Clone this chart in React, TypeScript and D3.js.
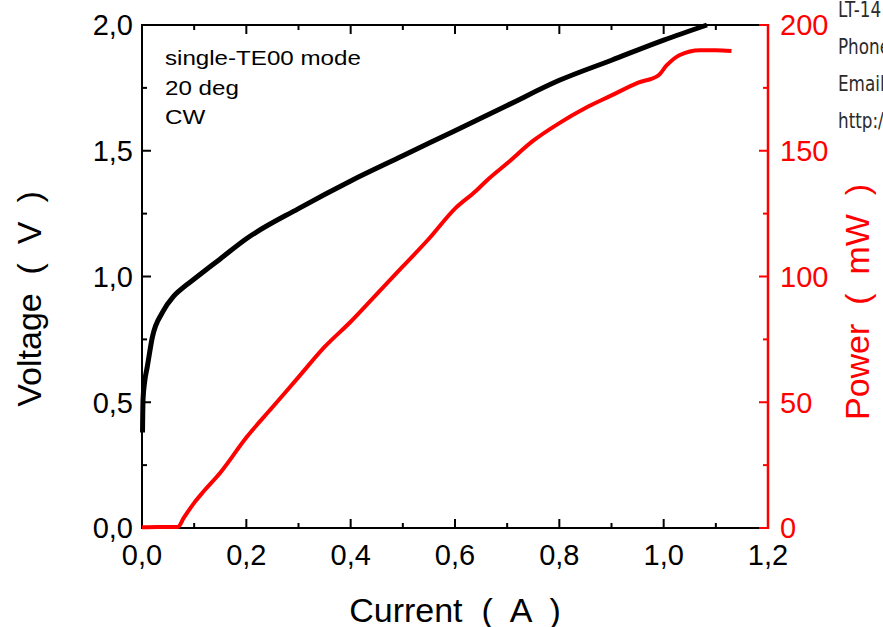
import React from "react";
import * as d3 from "d3";

const currentV = [0.001, 0.002, 0.005, 0.01, 0.02, 0.04, 0.06, 0.073, 0.1, 0.15, 0.2, 0.3, 0.4, 0.5, 0.6, 0.7, 0.8, 0.9, 1.0, 1.083];
const voltage = [0.38, 0.51, 0.58, 0.64, 0.76, 0.86, 0.92, 0.946, 0.99, 1.07, 1.15, 1.27, 1.38, 1.48, 1.58, 1.68, 1.78, 1.86, 1.94, 2.0];

const currentP = [0, 0.03, 0.069, 0.08, 0.1, 0.12, 0.15, 0.2, 0.25, 0.3, 0.35, 0.4, 0.45, 0.5, 0.55, 0.6, 0.64, 0.66, 0.7, 0.75, 0.8, 0.85, 0.9, 0.95, 0.99, 1.006, 1.03, 1.07, 1.1, 1.13];
const power = [0.3, 0.4, 0.4, 4, 10, 15, 22, 36, 48, 60, 72, 82, 93, 104, 115, 127, 134, 138, 145, 154, 161, 167, 172, 177, 180, 184, 188, 190, 190, 189.7];

const xTicks = [0, 0.2, 0.4, 0.6, 0.8, 1.0, 1.2];
const xMinor = [0.1, 0.3, 0.5, 0.7, 0.9, 1.1];
const yTicks = [0, 0.5, 1.0, 1.5, 2.0];
const yMinor = [0.25, 0.75, 1.25, 1.75];
const pTicks = [0, 50, 100, 150, 200];
const pMinor = [25, 75, 125, 175];
const notes = ["single-TE00 mode", "20 deg", "CW"];
const cornerText = ["LT-14", "Phone", "Email", "http:/"];

const W = 883, H = 627;
const L = 142, R = 768, T = 25, B = 528;
const FONT = "'Liberation Sans', Arial, sans-serif";
const RED = "#ff0000";

export default function App() {
  const x = d3.scaleLinear().domain([0, 1.2]).range([L, R]);
  const y = d3.scaleLinear().domain([0, 2]).range([B, T]);
  const yp = d3.scaleLinear().domain([0, 200]).range([B, T]);
  const fmt = (v: number) => v.toFixed(1).replace(".", ",");

  const vLine = d3.line<number>().x((_, i) => x(currentV[i])).y((d) => y(d)).curve(d3.curveMonotoneX);
  const pLine = d3.line<number>().x((_, i) => x(currentP[i])).y((d) => yp(d)).curve(d3.curveMonotoneX);

  const major = 9, minor = 5;

  return (
    <svg width={W} height={H} style={{ position: "absolute", left: 0, top: 0, background: "#fff" }} fontFamily={FONT}>
      {/* corner text */}
      {cornerText.map((t, i) => (
        <text key={t} transform={`translate(838,${17 + i * 37}) scale(0.8,1)`} fontSize={21} fill="#2b2b2b"
          fontFamily="'DejaVu Sans', sans-serif">{t}</text>
      ))}

      {/* axes frame */}
      <line x1={L} x2={R} y1={B} y2={B} stroke="#000" strokeWidth={2} />
      <line x1={L} x2={R} y1={T} y2={T} stroke="#000" strokeWidth={2} />
      <line x1={L} x2={L} y1={T - 1} y2={B + 1} stroke="#000" strokeWidth={2} />

      {/* x ticks bottom & top */}
      {xTicks.map((t) => (
        <g key={"xt" + t}>
          <line x1={x(t)} x2={x(t)} y1={B} y2={B - major} stroke="#000" strokeWidth={2} />
          <line x1={x(t)} x2={x(t)} y1={T} y2={T + major} stroke="#000" strokeWidth={2} />
          <text x={x(t)} y={565} fontSize={29} textAnchor="middle" fill="#000">{fmt(t)}</text>
        </g>
      ))}
      {xMinor.map((t) => (
        <g key={"xm" + t}>
          <line x1={x(t)} x2={x(t)} y1={B} y2={B - minor} stroke="#000" strokeWidth={2} />
          <line x1={x(t)} x2={x(t)} y1={T} y2={T + minor} stroke="#000" strokeWidth={2} />
        </g>
      ))}

      {/* left y ticks */}
      {yTicks.map((t) => (
        <g key={"yt" + t}>
          <line x1={L} x2={L + major} y1={y(t)} y2={y(t)} stroke="#000" strokeWidth={2} />
          <text x={133} y={y(t)} dy="0.36em" fontSize={29} textAnchor="end" fill="#000">{fmt(t)}</text>
        </g>
      ))}
      {yMinor.map((t) => (
        <line key={"ym" + t} x1={L} x2={L + minor} y1={y(t)} y2={y(t)} stroke="#000" strokeWidth={2} />
      ))}

      {/* right power axis */}
      <line x1={R} x2={R} y1={T - 1} y2={B + 1} stroke={RED} strokeWidth={2.5} />
      {pTicks.map((t) => (
        <g key={"pt" + t}>
          <line x1={R} x2={R - major} y1={yp(t)} y2={yp(t)} stroke={RED} strokeWidth={2} />
          <text x={780} y={yp(t)} dy="0.36em" fontSize={29} textAnchor="start" fill={RED}>{t}</text>
        </g>
      ))}
      {pMinor.map((t) => (
        <line key={"pm" + t} x1={R} x2={R - minor} y1={yp(t)} y2={yp(t)} stroke={RED} strokeWidth={2} />
      ))}

      {/* data */}
      <path d={pLine(power) || ""} fill="none" stroke={RED} strokeWidth={4} strokeLinejoin="round" />
      <path d={vLine(voltage) || ""} fill="none" stroke="#000" strokeWidth={5} strokeLinejoin="round" />

      {/* notes */}
      {notes.map((t, i) => (
        <text key={t} transform={`translate(165,${65 + i * 29.5}) scale(1.15,1)`} fontSize={21} fill="#000">{t}</text>
      ))}

      {/* axis titles */}
      <text x={455} y={622} fontSize={34} textAnchor="middle" fill="#000" style={{ whiteSpace: "pre" }}>{"Current  (  A  )"}</text>
      <text transform="translate(41,299) rotate(-90)" fontSize={34} textAnchor="middle" fill="#000" style={{ whiteSpace: "pre" }}>{"Voltage  (  V  )"}</text>
      <text transform="translate(869,302) rotate(-90)" fontSize={34} textAnchor="middle" fill={RED} style={{ whiteSpace: "pre" }}>{"Power  (  mW  )"}</text>
    </svg>
  );
}
